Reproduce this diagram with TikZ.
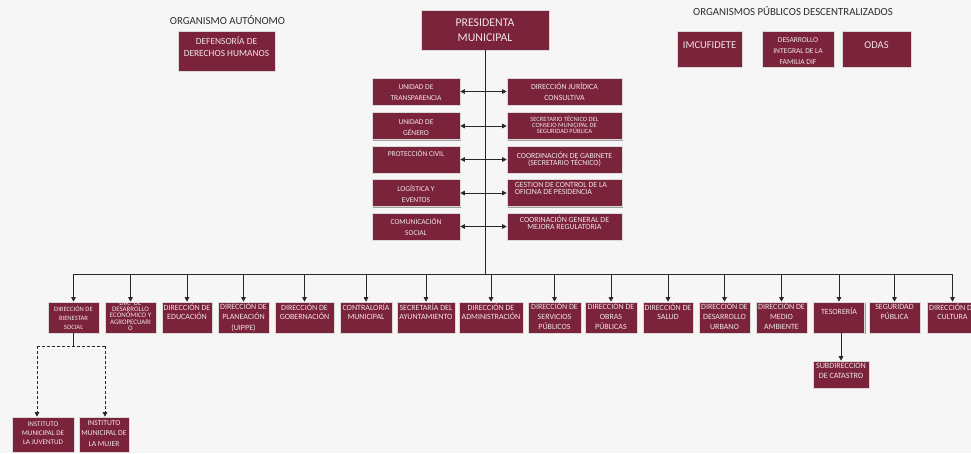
\documentclass[tikz,border=0pt]{standalone}
\usepackage{fontspec}
\setmainfont{Carlito}
\usetikzlibrary{arrows.meta,shadows}
\definecolor{maroon}{RGB}{123,35,59}
\definecolor{btxt}{RGB}{240,228,231}
\definecolor{lncol}{RGB}{40,40,40}
\definecolor{bgcol}{RGB}{246,246,246}
\definecolor{hdrcol}{RGB}{45,45,45}
\newcommand\bx[9]{%
 \node[obox, minimum width=#4pt, minimum height=#5pt] (#1) at (#2,#3) {};
 \node[btext, font=\fontsize{#6}{#7}\selectfont, text height=0.644*#6pt, anchor=north] (#1t) at ([yshift=-#8pt]#1.north) {\parbox[t]{\dimexpr#4pt+24pt\relax}{\centering #9}};}
\begin{document}
\begin{tikzpicture}[x=1pt,y=-1pt,
 obox/.style={rectangle, draw=black!15, line width=0.6pt, fill=maroon, inner sep=0pt,
   drop shadow={shadow xshift=1.2pt, shadow yshift=-1.2pt, opacity=0.35, fill=black}},
 btext/.style={inner sep=0pt, text=btxt},
 hdr/.style={inner sep=0pt, text=hdrcol, font=\fontsize{10.8}{12}\selectfont},
 ln/.style={draw=lncol, line width=0.8pt},
 arr/.style={ln, -{Triangle[length=4.5pt,width=4.5pt]}},
 darr/.style={ln, {Triangle[length=4.5pt,width=4.5pt]}-{Triangle[length=4.5pt,width=4.5pt]}},
 dsh/.style={dash pattern=on 3pt off 2pt}]
\fill[bgcol] (0,0) rectangle (971,453);
\useasboundingbox (0,0) rectangle (971,453);
\clip (0,0) rectangle (971,453);

% headers
\node[hdr] (h1) at (227.5,20) {ORGANISMO AUTÓNOMO};
\node[hdr] (h2) at (793,11.5) {ORGANISMOS PÚBLICOS DESCENTRALIZADOS};

% top boxes
\bx{pres}{485}{30}{128}{40}{11.8}{15}{8.9}{PRESIDENTA\\MUNICIPAL}
\bx{def}{226.5}{51}{97}{40}{9.4}{11.6}{7.6}{DEFENSORÍA DE\\DERECHOS HUMANOS}
\bx{imcu}{709.5}{49}{65}{36}{10.5}{12}{10.6}{IMCUFIDETE}
\bx{dif}{798}{49}{72}{36}{7.5}{11.3}{6.6}{DESARROLLO\\INTEGRAL DE LA\\FAMILIA DIF}
\bx{odas}{876.5}{49}{69}{36}{10.5}{12}{10.6}{ODAS}

% middle stack
\bx{l1}{416}{91.5}{88}{27}{7.5}{11}{6.9}{UNIDAD DE\\TRANSPARENCIA}
\bx{l2}{416}{126}{88}{27}{7.5}{11}{6.9}{UNIDAD DE\\GÉNERO}
\bx{l3}{416}{159.5}{88}{27}{7.5}{11}{6.1}{PROTECCIÓN CIVIL}
\bx{l4}{416}{193}{88}{27}{7.5}{11}{6.9}{LOGÍSTICA Y\\EVENTOS}
\bx{l5}{416}{226.5}{88}{27}{7.5}{11}{6.3}{COMUNICACIÓN\\SOCIAL}

\bx{r1}{564.5}{91.5}{115}{27}{7.9}{11}{6.8}{DIRECCIÓN JURÍDICA\\CONSULTIVA}
\bx{r2}{564.5}{126}{115}{27}{6.5}{5.9}{4.7}{SECRETARIO TÉCNICO DEL\\CONSEJO MUNICIPAL DE\\SEGURIDAD PÚBLICA}
\bx{r3}{564.5}{159.5}{115}{27}{7.8}{7.4}{7.5}{COORDINACIÓN DE GABINETE\\(SECRETARIO TÉCNICO)}
\node[obox, minimum width=115pt, minimum height=27pt] (r4) at (564.5,193) {};
\node[btext, anchor=north west, font=\fontsize{7.9}{7.4}\selectfont, text height=0.644*7.9pt] (r4t) at ([xshift=8pt,yshift=-2.9pt]r4.north west) {\parbox[t]{110pt}{\raggedright GESTION DE CONTROL DE LA\\OFICINA DE PESIDENCIA}};
\bx{r5}{564.5}{226.5}{115}{27}{7.9}{7.4}{4.5}{COORINACIÓN GENERAL DE\\MEJORA REGULATORIA}

% bottom row
\bx{bien}{73.5}{317.5}{51}{31}{6.6}{9}{4.9}{DIRECCIÓN DE\\BIENESTAR\\SOCIAL}
\bx{deco}{130.5}{317.5}{51}{31}{6.9}{6.1}{-0.6}{DIR.\ \ DE\\DESARROLLO\\ECONÓMICO Y\\AGROPECUARI\\O}
\bx{edu}{187}{317.5}{50}{31}{8}{9.7}{3.1}{DIRECCIÓN DE\\EDUCACIÓN}
\bx{plan}{243.5}{317.5}{51}{31}{8}{10.8}{2.1}{DIRECCIÓN DE\\PLANEACIÓN\\(UIPPE)}
\bx{gob}{304.5}{317.5}{59}{31}{8}{9.7}{3.1}{DIRECCIÓN DE\\GOBERNACIÓN}
\bx{contr}{366}{317.5}{52}{31}{8}{9.7}{3.1}{CONTRALORÍA\\MUNICIPAL}
\bx{sec}{426}{317.5}{58}{31}{8}{9.7}{3.1}{SECRETARÍA DEL\\AYUNTAMIENTO}
\bx{adm}{491}{317.5}{64}{31}{8}{9.7}{3.1}{DIRECCIÓN DE\\ADMINISTRACIÓN}
\bx{serv}{554.5}{317.5}{53}{31}{8}{10}{2.1}{DIRECCIÓN DE\\SERVICIOS\\PÚBLICOS}
\bx{obras}{611}{317.5}{52}{31}{8}{10}{2.1}{DIRECCIÓN DE\\OBRAS\\PÚBLICAS}
\bx{salud}{668}{317.5}{50}{31}{8}{9.7}{3.1}{DIRECCIÓN DE\\SALUD}
\bx{urb}{724.5}{317.5}{51}{31}{8}{10}{2.1}{DIRECCIÓN DE\\DESARROLLO\\URBANO}
\bx{medio}{781.5}{317.5}{51}{31}{8}{10}{2.1}{DIRECCIÓN DE\\MEDIO\\AMBIENTE}
\bx{tes}{839}{317.5}{51}{31}{8}{9.7}{7.1}{TESORERÍA}
\bx{seg}{894.5}{317.5}{51}{31}{8}{10.6}{2.1}{SEGURIDAD\\PÚBLICA}
\bx{cult}{952.5}{317.5}{51}{31}{8}{9.7}{3.1}{DIRECCIÓN DE\\CULTURA}

% lower boxes
\bx{sub}{841}{374.5}{56}{27}{8.1}{10}{2.4}{SUBDIRECCIÓN\\DE CATASTRO}
\bx{juv}{43}{434.5}{62}{35}{7.1}{9.3}{4.7}{INSTITUTO\\MUNICIPAL DE\\LA JUVENTUD}
\bx{muj}{104}{434.5}{50}{35}{7.6}{10.7}{3.2}{INSTITUTO\\MUNICIPAL DE\\LA MUJER}

% connectors
\coordinate (busL) at (73.5,274);
\draw[ln] (pres.south) -- (pres.south |- busL);
\draw[ln] (bien.north |- busL) -- (cult.north |- busL);
\foreach \n in {bien,deco,edu,plan,gob,contr,sec,adm,serv,obras,salud,urb,medio,tes,seg,cult}
  \draw[arr] (\n.north |- busL) -- (\n.north);
\foreach \i in {1,...,5}
  \draw[darr] (l\i.east) -- (r\i.west);
\coordinate (dj) at (37,346);
\coordinate (dm) at (105,346);
\draw[ln] (bien.south) -- (bien.south |- dj);
\draw[ln, dsh] (dj) -- (dm);
\draw[arr, dsh] (dj) -- (dj |- juv.north);
\draw[arr, dsh] (dm) -- (dm |- muj.north);
\draw[arr] (sub.north |- tes.south) -- (sub.north);
\end{tikzpicture}
\end{document}
